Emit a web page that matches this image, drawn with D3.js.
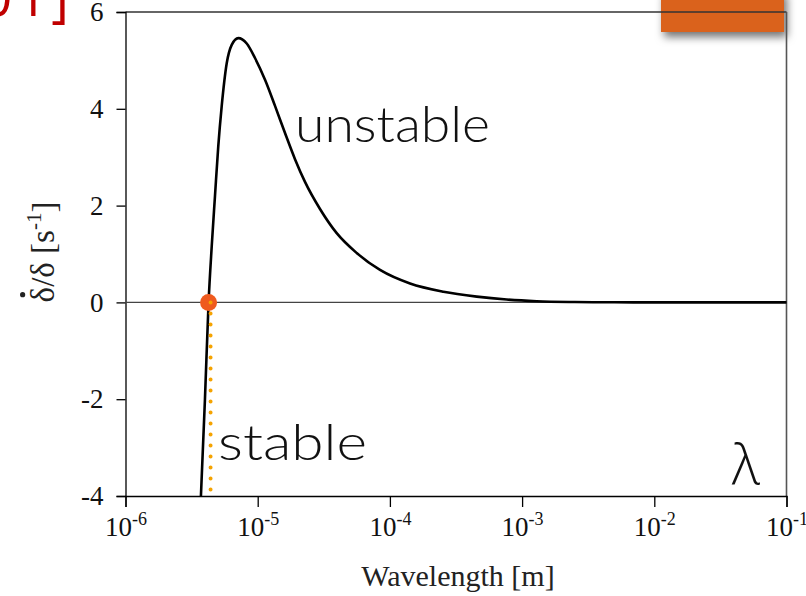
<!DOCTYPE html>
<html>
<head>
<meta charset="utf-8">
<script src="https://cdn.jsdelivr.net/npm/d3@7"></script>
<style>
  html, body { margin: 0; padding: 0; background: #fff; }
  svg { display: block; }
</style>
</head>
<body>
<div id="chart"></div>
<script>
// Growth rate of a perturbation versus its wavelength
const wavelengths = [3.72e-6, 3.99e-6, 4.25e-6, 4.49e-6, 4.75e-6, 5.03e-6, 5.34e-6, 5.83e-6,
  6.36e-6, 7.13e-6, 8.26e-6, 9.54e-6, 1.136e-5, 1.352e-5, 1.609e-5, 1.915e-5, 2.279e-5,
  2.96e-5, 3.96e-5, 5.61e-5, 8.42e-5, 1.42e-4, 2.54e-4, 4.54e-4, 7.65e-4, 1.29e-3,
  2.5e-3, 5e-3, 1e-2, 1e-1];
const growthRates = [-4.0, -2.0, 0.0, 1.16, 2.19, 3.22, 4.05, 4.94,
  5.32, 5.46, 5.35, 5.05, 4.60, 4.06, 3.50, 2.96, 2.49,
  1.93, 1.43, 1.02, 0.67, 0.39, 0.22, 0.12, 0.06, 0.025,
  0.008, 0.002, 0, 0];
const criticalWavelength = 4.25e-6;
const xTickExponents = [-6, -5, -4, -3, -2, -1];
const yTicks = [-4, -2, 0, 2, 4, 6];
const regionLabels = ["unstable", "stable"];

const W = 806, H = 596;
const plot = { left: 125.5, right: 786.5, top: 12, bottom: 496 };

const svg = d3.select("#chart").append("svg").attr("width", W).attr("height", H);

const defs = svg.append("defs");
const shadow = defs.append("filter").attr("id", "boxShadow")
  .attr("x", "-20%").attr("y", "-50%").attr("width", "150%").attr("height", "250%");
shadow.append("feDropShadow").attr("dx", 3).attr("dy", 5).attr("stdDeviation", 4)
  .attr("flood-color", "#000").attr("flood-opacity", 0.55);

// Orange decoration in the top-right corner
svg.append("rect").attr("x", 661).attr("y", -10).attr("width", 123).attr("height", 42)
  .attr("fill", "#DA621B").attr("filter", "url(#boxShadow)");

// Citation fragment, top-left
svg.append("text").attr("x", 73).attr("y", 16).attr("text-anchor", "end")
  .attr("font-family", "'Open Sans', sans-serif").attr("font-size", 54)
  .attr("letter-spacing", 4).attr("fill", "#C00000").text("2001]");

const x = d3.scaleLog().domain([1e-6, 1e-1]).range([plot.left, plot.right]);
const y = d3.scaleLinear().domain([-4, 6]).range([plot.bottom, plot.top]);

const serif = "'Liberation Serif', 'Times New Roman', serif";

// Frame: top and right edges
svg.append("line").attr("x1", plot.left).attr("x2", plot.right)
  .attr("y1", plot.top).attr("y2", plot.top).attr("stroke", "#333").attr("stroke-width", 1.3);
svg.append("line").attr("x1", plot.right).attr("x2", plot.right)
  .attr("y1", plot.top).attr("y2", plot.bottom).attr("stroke", "#555").attr("stroke-width", 1.6);

// Y axis
const yAxis = svg.append("g").attr("transform", `translate(${plot.left},0)`)
  .call(d3.axisLeft(y).tickValues(yTicks).tickSize(9).tickPadding(13)
    .tickFormat(d => d < 0 ? "-" + Math.abs(d) : String(d)));
yAxis.select(".domain").attr("stroke", "#000").attr("stroke-width", 1.3);
yAxis.selectAll(".tick line").attr("stroke", "#000").attr("stroke-width", 1.3);
yAxis.selectAll(".tick text").attr("font-family", serif).attr("font-size", 27).attr("fill", "#111");

// X axis
const xAxis = svg.append("g").attr("transform", `translate(0,${plot.bottom})`)
  .call(d3.axisBottom(x).tickValues(xTickExponents.map(e => Math.pow(10, e))).tickSize(11)
    .tickPadding(10).tickFormat(() => ""));
xAxis.select(".domain").attr("stroke", "#000").attr("stroke-width", 1.3);
xAxis.selectAll(".tick line").attr("stroke", "#000").attr("stroke-width", 1.3);
xAxis.selectAll(".tick text").each(function(d, i) {
  const t = d3.select(this).attr("font-family", serif).attr("font-size", 27).attr("fill", "#111")
    .attr("dy", "0.71em");
  t.append("tspan").text("10");
  t.append("tspan").attr("font-size", 18).attr("dy", "-0.6em").text(String(xTickExponents[i]));
});

// Axis titles
svg.append("text").attr("x", 458).attr("y", 586).attr("text-anchor", "middle")
  .attr("font-family", serif).attr("font-size", 30).attr("fill", "#222").text("Wavelength [m]");

const yTitleSize = 33;
const yTitleG = svg.append("g").attr("transform", "translate(54,252) rotate(-90)");
const yTitle = yTitleG.append("text").attr("text-anchor", "middle")
  .attr("font-family", serif).attr("font-size", yTitleSize).attr("fill", "#222");
yTitle.append("tspan").text("\u03B4/\u03B4 [s");
yTitle.append("tspan").attr("font-size", 21).attr("dy", "-0.6em").text("-1");
yTitle.append("tspan").attr("dy", "0.4em").text("]");
// time-derivative dot above the first delta
const firstChar = yTitle.node().getExtentOfChar(0);
yTitleG.append("circle").attr("cx", firstChar.x + firstChar.width / 2)
  .attr("cy", -0.95 * yTitleSize).attr("r", 2.6).attr("fill", "#222");

// Zero line
svg.append("line").attr("x1", plot.left).attr("x2", plot.right)
  .attr("y1", y(0)).attr("y2", y(0)).attr("stroke", "#444").attr("stroke-width", 1.3);

// Growth-rate curve
const points = wavelengths.map((w, i) => [w, growthRates[i]]);
const line = d3.line().x(d => x(d[0])).y(d => y(d[1])).curve(d3.curveMonotoneX);
svg.append("path").datum(points).attr("d", line)
  .attr("fill", "none").attr("stroke", "#000").attr("stroke-width", 2.6)
  .attr("stroke-linejoin", "round");

// Marginal stability point and its projection onto the wavelength axis
svg.append("circle").attr("cx", x(criticalWavelength)).attr("cy", y(0)).attr("r", 8.5)
  .attr("fill", "#EF5A1E");
svg.append("line").attr("x1", x(criticalWavelength) + 2).attr("x2", x(criticalWavelength) + 2)
  .attr("y1", y(0)).attr("y2", y(-4))
  .attr("stroke", "#F5A300").attr("stroke-width", 4).attr("stroke-linecap", "round")
  .attr("stroke-dasharray", "0 11");

// Region labels
const sans = "'Century Gothic', 'URW Gothic', Lato, sans-serif";
svg.append("text").attr("x", 295).attr("y", 142).attr("font-family", sans).attr("font-size", 50)
  .attr("font-weight", 300)
  .attr("textLength", 195).attr("lengthAdjust", "spacingAndGlyphs").attr("fill", "#111")
  .text(regionLabels[0]);
svg.append("text").attr("x", 218).attr("y", 460).attr("font-family", sans).attr("font-size", 50)
  .attr("font-weight", 300)
  .attr("textLength", 149).attr("lengthAdjust", "spacingAndGlyphs").attr("fill", "#111")
  .text(regionLabels[1]);

svg.append("text").attr("x", 732).attr("y", 484).attr("font-family", "'Open Sans', sans-serif")
  .attr("font-size", 55).attr("font-weight", 300).attr("fill", "#111").text("\u03BB");
</script>
</body>
</html>
